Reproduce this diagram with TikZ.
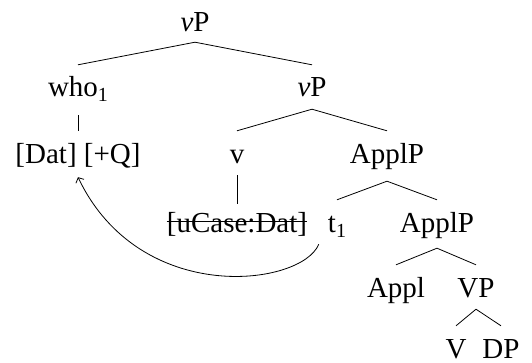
\documentclass[tikz,border=0pt]{standalone}
\usepackage{fontspec}
\setmainfont{Liberation Serif}
\usetikzlibrary{arrows.meta}
\newcommand{\subone}{\raisebox{-5pt}{\fontsize{20}{20}\selectfont 1}}
\begin{document}
\begin{tikzpicture}[x=1pt,y=1pt,
  lab/.style={anchor=base,inner sep=0pt,text height=32pt,text depth=12pt,font=\fontsize{29}{34}\selectfont},
  leaf/.style={lab,text depth=0pt},
  edge/.style={line width=0.8pt},
]
\useasboundingbox (0,0) rectangle (532,362);
% baselines (tikz y): 330, 265, 199, 130, 65, 4
\node[lab] (vp1) at (195,330) {\textit{v}P};
\node[lab] (who) at (78,265) {who\subone};
\node[lab] (vp2) at (312,265) {\textit{v}P};
\node[lab] (dat) at (78,199) {[Dat] [+Q]};
\node[lab] (v) at (237,199) {v};
\node[lab] (applp1) at (387,199) {ApplP};
\node[lab] (uc) at (237,130) {[uCase:Dat]};
\node[lab] (t) at (337,130) {t\subone};
\node[lab] (applp2) at (437,130) {ApplP};
\node[lab] (appl) at (396,65) {Appl};
\node[lab] (vpp) at (476,65) {VP};
\node[leaf] (vv) at (456,4) {V};
\node[leaf] (dp) at (501,4) {DP};
% strike-through
\draw[edge] ([yshift=11pt]uc.base west) -- ([yshift=11pt]uc.base east);
% branches
\draw[edge] ([yshift=2pt]vp1.south) -- (who.north);
\draw[edge] ([yshift=2pt]vp1.south) -- (vp2.north);
\draw[edge] (vp2.south) -- (v.north);
\draw[edge] (vp2.south) -- (applp1.north);
\draw[edge] ([yshift=-6pt]who.south) -- (dat.north);
\draw[edge] (v.south) -- ([yshift=-4pt]uc.north);
\draw[edge] ([yshift=-6pt]applp1.south) -- (t.north);
\draw[edge] ([yshift=-6pt]applp1.south) -- (applp2.north);
\draw[edge] ([yshift=-4pt]applp2.south) -- (appl.north);
\draw[edge] ([yshift=-4pt]applp2.south) -- (vpp.north);
\draw[edge] (vpp.south) -- (vv.north);
\draw[edge] (vpp.south) -- (dp.north);
% movement arrow
\draw[edge,-{Straight Barb[length=4pt,width=9pt]}] ([xshift=-9pt]t.south west) .. controls +(-17,-42) and +(62,-130) .. ([yshift=-2pt]dat.south);
\end{tikzpicture}
\end{document}
